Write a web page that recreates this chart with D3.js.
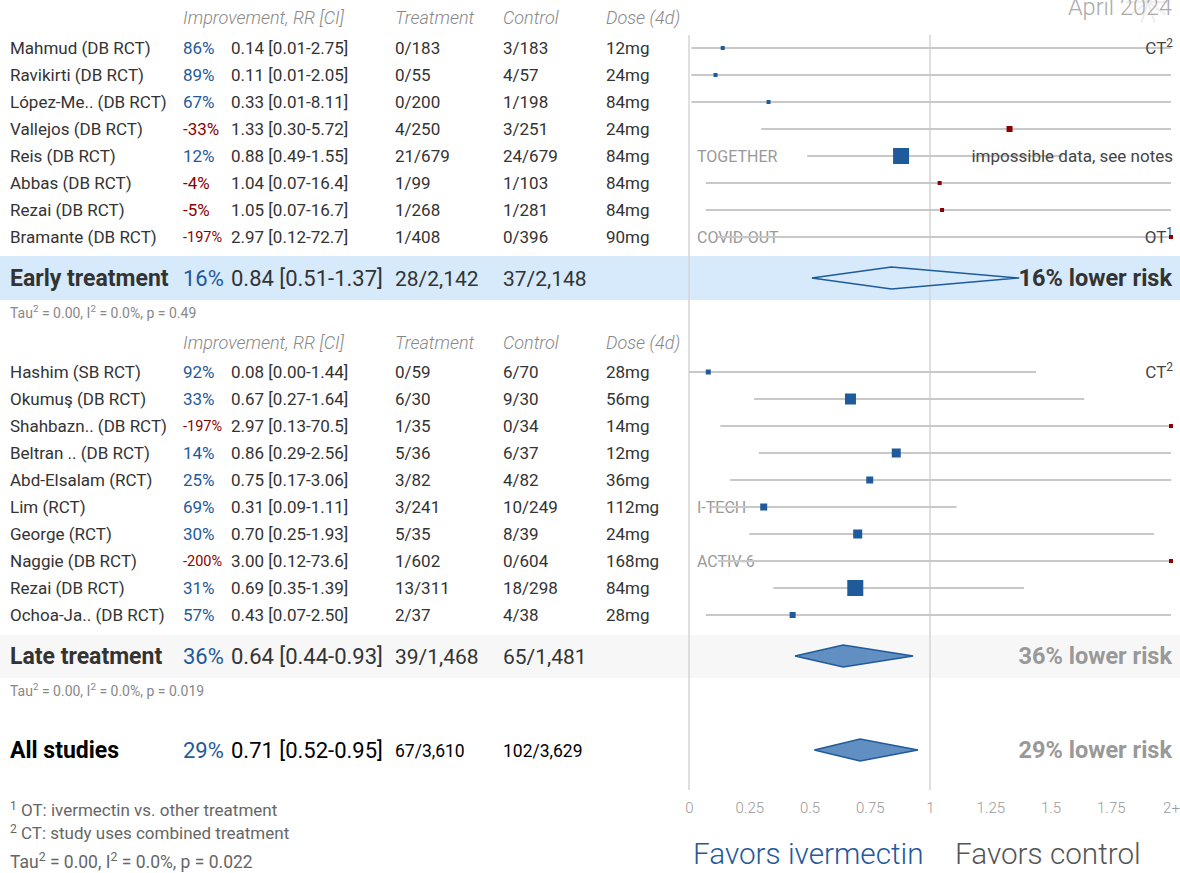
<!DOCTYPE html>
<html><head><meta charset="utf-8">
<script src="https://cdn.jsdelivr.net/npm/d3@7"></script>
<style>body{margin:0;background:#fff;}svg{display:block;font-family:Roboto,"Noto Sans",sans-serif;}</style>
</head><body><svg id="c" width="1180" height="873"></svg>
<script>
// ---- data ----
const earlyNames = ["Mahmud (DB RCT)","Ravikirti (DB RCT)","López-Me.. (DB RCT)","Vallejos (DB RCT)","Reis (DB RCT)","Abbas (DB RCT)","Rezai (DB RCT)","Bramante (DB RCT)"];
const earlyImp = ["86%","89%","67%","-33%","12%","-4%","-5%","-197%"];
const earlyRR = [0.14,0.11,0.33,1.33,0.88,1.04,1.05,2.97];
const earlyLo = [0.01,0.01,0.01,0.30,0.49,0.07,0.07,0.12];
const earlyHi = [2.75,2.05,8.11,5.72,1.55,16.4,16.7,72.7];
const earlyTrt = ["0/183","0/55","0/200","4/250","21/679","1/99","1/268","1/408"];
const earlyCtl = ["3/183","4/57","1/198","3/251","24/679","1/103","1/281","0/396"];
const earlyDose = ["12mg","24mg","84mg","24mg","84mg","84mg","84mg","90mg"];
const earlyWeight = [4,4,4,6,16,4,4,4];
const earlyLeftNote = ["","","","","TOGETHER","","","COVID-OUT"];
const earlyRightNote = [["CT","2"],null,null,null,["impossible data, see notes",""],null,null,["OT","1"]];

const lateNames = ["Hashim (SB RCT)","Okumuş (DB RCT)","Shahbazn.. (DB RCT)","Beltran .. (DB RCT)","Abd-Elsalam (RCT)","Lim (RCT)","George (RCT)","Naggie (DB RCT)","Rezai (DB RCT)","Ochoa-Ja.. (DB RCT)"];
const lateImp = ["92%","33%","-197%","14%","25%","69%","30%","-200%","31%","57%"];
const lateRR = [0.08,0.67,2.97,0.86,0.75,0.31,0.70,3.00,0.69,0.43];
const lateLo = [0.00,0.27,0.13,0.29,0.17,0.09,0.25,0.12,0.35,0.07];
const lateHi = [1.44,1.64,70.5,2.56,3.06,1.11,1.93,73.6,1.39,2.50];
const lateTrt = ["0/59","6/30","1/35","5/36","3/82","3/241","5/35","1/602","13/311","2/37"];
const lateCtl = ["6/70","9/30","0/34","6/37","4/82","10/249","8/39","0/604","18/298","4/38"];
const lateDose = ["28mg","56mg","14mg","12mg","36mg","112mg","24mg","168mg","84mg","28mg"];
const lateWeight = [5,11,4,9,7,7,9,4,16,6];
const lateLeftNote = ["","","","","","I-TECH","","ACTIV-6","",""];
const lateRightNote = [["CT","2"],null,null,null,null,null,null,null,null,null];

const summaryLabels = ["Early treatment","Late treatment","All studies"];
const summaryImp = ["16%","36%","29%"];
const summaryRR = [0.84,0.64,0.71];
const summaryLo = [0.51,0.44,0.52];
const summaryHi = [1.37,0.93,0.95];
const summaryTrt = ["28/2,142","39/1,468","67/3,610"];
const summaryCtl = ["37/2,148","65/1,481","102/3,629"];
const summaryRisk = ["16% lower risk","36% lower risk","29% lower risk"];
const summaryP = ["0.49","0.019","0.022"];

const headers = ["Improvement, RR [CI]","Treatment","Control","Dose (4d)"];
const tickValues = [0,0.25,0.5,0.75,1,1.25,1.5,1.75,2];
const tickLabels = ["0","0.25","0.5","0.75","1","1.25","1.5","1.75","2+"];
const footnotes = ["OT: ivermectin vs. other treatment","CT: study uses combined treatment"];

// ---- layout ----
const svg = d3.select("#c");
const x = d3.scaleLinear().domain([0,2]).range([689,1171]).clamp(true);
const yEarly = d3.scaleLinear().domain([0,1]).range([48,75]);
const yLate = d3.scaleLinear().domain([0,1]).range([372,399]);
const colX = {name:10, imp:183, rr:231, trt:395, ctl:503, dose:606};
const BLUE = "#1f5a9a", RED = "#8b0000", TXT = "#333";

// faint decoration behind the date
const deco = svg.append("g").attr("stroke","#eee").attr("stroke-width",2);
d3.range(10).forEach(k=>{
  const a = k/10*Math.PI*2;
  deco.append("line").attr("x1",1148).attr("y1",2).attr("x2",1148+Math.cos(a)*22).attr("y2",2+Math.sin(a)*22);
});

// bands
svg.append("rect").attr("x",0).attr("y",256).attr("width",1180).attr("height",44).attr("fill","#d6eafc");
svg.append("rect").attr("x",0).attr("y",635).attr("width",1180).attr("height",43).attr("fill","#f7f7f7");

// reference lines
[0,1].forEach(v=>{
  svg.append("line").attr("x1",x(v)).attr("x2",x(v)).attr("y1",35).attr("y2",790)
    .attr("stroke","#d4d4d4").attr("stroke-width",1.5);
});

// date
svg.append("text").attr("x",1172).attr("y",15).attr("text-anchor","end")
  .attr("font-size",23.5).attr("font-weight",300).attr("fill","#aaa").text("April 2024");

// headers
function drawHeader(y){
  const g = svg.append("g").attr("font-style","italic").attr("font-weight",300).attr("fill","#888").attr("font-size",18);
  [colX.imp,colX.trt,colX.ctl,colX.dose].forEach((cx,i)=>{
    g.append("text").attr("x",cx).attr("y",y).text(headers[i]);
  });
}
drawHeader(24);
drawHeader(349);

function supText(sel, base, sup, size){
  sel.append("tspan").text(base);
  if(sup) sel.append("tspan").attr("font-size",size*0.7).attr("dy",-size*0.4).text(sup);
}

function drawRows(ys, names, imp, rr, lo, hi, trt, ctl, dose, w, lnote, rnote){
  names.forEach((n,i)=>{
    const y = ys(i);
    const by = y+6;
    svg.append("text").attr("x",colX.name).attr("y",by).attr("font-size",17).attr("fill",TXT).text(n);
    const neg = imp[i].startsWith("-");
    const small = imp[i].length>4;
    svg.append("text").attr("x",colX.imp).attr("y",small?by-1:by).attr("font-size",small?14.5:17)
      .attr("fill",neg?RED:BLUE).text(imp[i]);
    svg.append("text").attr("x",colX.rr).attr("y",by).attr("font-size",17).attr("fill",TXT)
      .text(d3.format(".2f")(rr[i])+" ["+d3.format(".2f")(lo[i])+"-"+(hi[i]>=10?hi[i].toFixed(1):hi[i].toFixed(2))+"]");
    svg.append("text").attr("x",colX.trt).attr("y",by).attr("font-size",17).attr("fill",TXT).text(trt[i]);
    svg.append("text").attr("x",colX.ctl).attr("y",by).attr("font-size",17).attr("fill",TXT).text(ctl[i]);
    svg.append("text").attr("x",colX.dose).attr("y",by).attr("font-size",17).attr("fill",TXT).text(dose[i]);
    if(lnote[i]) svg.append("text").attr("x",697).attr("y",by).attr("font-size",16).attr("fill","#999").text(lnote[i]);
    svg.append("line").attr("x1",x(lo[i])).attr("x2",x(hi[i])).attr("y1",y).attr("y2",y)
      .attr("stroke","#c8c8c8").attr("stroke-width",2);
    if(rnote[i]){
      const t = svg.append("text").attr("x",1173).attr("y",by).attr("font-size",17).attr("text-anchor","end").attr("fill","#444");
      supText(t, rnote[i][0], rnote[i][1], 17);
    }
    const s = w[i];
    svg.append("rect").attr("x",x(rr[i])-s/2).attr("y",y-s/2).attr("width",s).attr("height",s)
      .attr("fill",rr[i]<1?BLUE:RED);
  });
}
drawRows(yEarly, earlyNames, earlyImp, earlyRR, earlyLo, earlyHi, earlyTrt, earlyCtl, earlyDose, earlyWeight, earlyLeftNote, earlyRightNote);
drawRows(yLate, lateNames, lateImp, lateRR, lateLo, lateHi, lateTrt, lateCtl, lateDose, lateWeight, lateLeftNote, lateRightNote);

function tauText(xp, yp, size, p, fill){
  const t = svg.append("text").attr("x",xp).attr("y",yp).attr("font-size",size).attr("fill",fill);
  t.append("tspan").text("Tau");
  t.append("tspan").attr("font-size",size*0.7).attr("dy",-size*0.4).text("2");
  t.append("tspan").attr("dy",size*0.4).text(" = 0.00, I");
  t.append("tspan").attr("font-size",size*0.7).attr("dy",-size*0.4).text("2");
  t.append("tspan").attr("dy",size*0.4).text(" = 0.0%, p = "+p);
}

// summaries
const sumY = [278,656,750];
summaryLabels.forEach((lab,i)=>{
  const y = sumY[i], by = y+8;
  const all = i===2;
  svg.append("text").attr("x",colX.name).attr("y",by).attr("font-size",23).attr("font-weight",700)
    .attr("fill",all?"#000":TXT).text(lab);
  svg.append("text").attr("x",colX.imp).attr("y",by).attr("font-size",22).attr("fill",BLUE).text(summaryImp[i]);
  svg.append("text").attr("x",colX.rr).attr("y",by).attr("font-size",22).attr("fill",all?"#000":TXT)
    .text(summaryRR[i].toFixed(2)+" ["+summaryLo[i].toFixed(2)+"-"+summaryHi[i].toFixed(2)+"]");
  svg.append("text").attr("x",colX.trt).attr("y",all?by-1:by).attr("font-size",all?17.5:21).attr("fill",all?"#000":TXT).text(summaryTrt[i]);
  svg.append("text").attr("x",colX.ctl).attr("y",all?by-1:by).attr("font-size",all?17.5:21).attr("fill",all?"#000":TXT).text(summaryCtl[i]);
  const h = 11;
  const pts = [[x(summaryLo[i]),y],[x(summaryRR[i]),y-h],[x(summaryHi[i]),y],[x(summaryRR[i]),y+h]];
  svg.append("polygon").attr("points",pts.map(p=>p.join(",")).join(" "))
    .attr("fill",i===0?"none":"#628fc2").attr("stroke",BLUE).attr("stroke-width",1.5);
  svg.append("text").attr("x",1172).attr("y",by).attr("text-anchor","end").attr("font-size",23.5)
    .attr("font-weight",700).attr("fill",i===0?TXT:"#999").text(summaryRisk[i]);
  if(i<2) tauText(10, [318,696][i], 14, summaryP[i], "#888");
});

// axis
const axis = d3.axisBottom(x).tickValues(tickValues).tickFormat((d,i)=>tickLabels[i]).tickSize(0).tickPadding(0);
const ag = svg.append("g").attr("transform","translate(0,802)").call(axis);
ag.select(".domain").remove();
ag.selectAll("text").attr("font-size",15).attr("font-weight",300).attr("fill","#999").attr("font-family","Roboto");

// favors
svg.append("text").attr("x",693).attr("y",864).attr("font-size",29.7).attr("font-weight",300).attr("fill",BLUE).text("Favors ivermectin");
svg.append("text").attr("x",955).attr("y",864).attr("font-size",29.7).attr("font-weight",300).attr("fill","#555").text("Favors control");

// footnotes
footnotes.forEach((f,i)=>{
  const t = svg.append("text").attr("x",10).attr("y",[816,839][i]).attr("font-size",17).attr("fill","#666");
  t.append("tspan").attr("font-size",12).attr("dy",-6).text(String(i+1));
  t.append("tspan").attr("dy",6).text(" "+f);
});
tauText(10, 868, 17.5, summaryP[2], "#666");
</script></body></html>
